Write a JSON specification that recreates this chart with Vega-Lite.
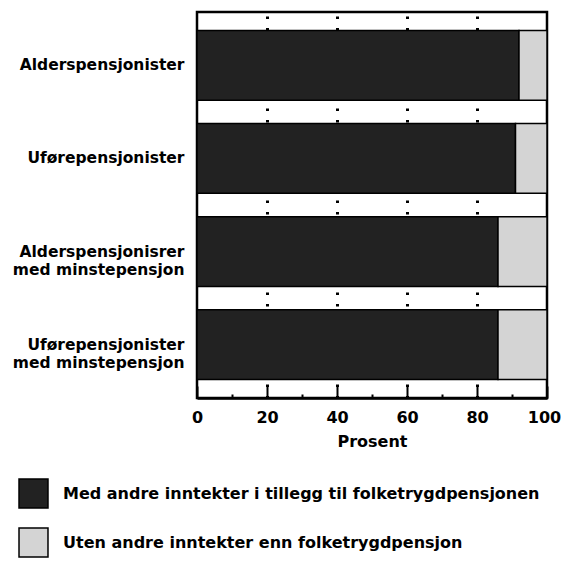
{
  "$schema": "https://vega.github.io/schema/vega-lite/v6.json",
  "autosize": {"type": "none"},
  "padding": {"left": 197, "top": 12, "right": 15, "bottom": 163},
  "width": 350,
  "height": 386,
  "config": {
    "font": "DejaVu Sans",
    "view": {"stroke": "#000", "strokeWidth": 2.5},
    "axis": {"labelFont": "DejaVu Sans", "titleFont": "DejaVu Sans"},
    "legend": {"labelFont": "DejaVu Sans"}
  },
  "data": {
    "values": [
      {"gruppe": "Alderspensjonister", "type": "Med andre inntekter i tillegg til folketrygdpensjonen", "ordre": 1, "prosent": 92},
      {"gruppe": "Alderspensjonister", "type": "Uten andre inntekter enn folketrygdpensjon", "ordre": 2, "prosent": 8},
      {"gruppe": "Uførepensjonister", "type": "Med andre inntekter i tillegg til folketrygdpensjonen", "ordre": 1, "prosent": 91},
      {"gruppe": "Uførepensjonister", "type": "Uten andre inntekter enn folketrygdpensjon", "ordre": 2, "prosent": 9},
      {"gruppe": "Alderspensjonisrer|med minstepensjon", "type": "Med andre inntekter i tillegg til folketrygdpensjonen", "ordre": 1, "prosent": 86},
      {"gruppe": "Alderspensjonisrer|med minstepensjon", "type": "Uten andre inntekter enn folketrygdpensjon", "ordre": 2, "prosent": 14},
      {"gruppe": "Uførepensjonister|med minstepensjon", "type": "Med andre inntekter i tillegg til folketrygdpensjonen", "ordre": 1, "prosent": 86},
      {"gruppe": "Uførepensjonister|med minstepensjon", "type": "Uten andre inntekter enn folketrygdpensjon", "ordre": 2, "prosent": 14}
    ]
  },
  "mark": {"type": "bar", "stroke": "#000", "strokeWidth": 1.5},
  "encoding": {
    "y": {
      "field": "gruppe",
      "type": "nominal",
      "sort": null,
      "scale": {"paddingInner": 0.25, "paddingOuter": 0.2},
      "axis": {
        "title": null,
        "ticks": false,
        "domain": false,
        "labelPadding": 13,
        "labelFontSize": 15.5,
        "labelFontWeight": "bold",
        "labelColor": "#000",
        "labelLineHeight": 18,
        "labelExpr": "split(datum.label, '|')"
      }
    },
    "x": {
      "field": "prosent",
      "type": "quantitative",
      "stack": "zero",
      "scale": {"domain": [0, 100], "nice": false},
      "axis": {
        "title": "Prosent",
        "titleFontSize": 16,
        "titleFontWeight": "bold",
        "titleColor": "#000",
        "titlePadding": 8,
        "values": [0, 10, 20, 30, 40, 50, 60, 70, 80, 90, 100],
        "labelExpr": "datum.value % 20 === 0 ? datum.label : ''",
        "labelFontSize": 16,
        "labelFontWeight": "bold",
        "labelColor": "#000",
        "labelPadding": 23,
        "labelFlush": false,
        "labelOffset": {"condition": {"test": "datum.value === 100", "value": -3}, "value": 0},
        "domainColor": "#000",
        "domainWidth": 2.5,
        "tickColor": "#000",
        "tickWidth": 2,
        "tickSize": {"condition": {"test": "datum.value % 20 === 0", "value": -12}, "value": -4},
        "grid": true,
        "gridColor": "#000",
        "gridWidth": 3,
        "gridDash": [2.5, 9],
        "gridOpacity": {"condition": {"test": "datum.value % 20 === 0 && datum.value > 0 && datum.value < 100", "value": 1}, "value": 0}
      }
    },
    "color": {
      "field": "type",
      "type": "nominal",
      "scale": {
        "domain": ["Med andre inntekter i tillegg til folketrygdpensjonen", "Uten andre inntekter enn folketrygdpensjon"],
        "range": ["#222222", "#d4d4d4"]
      },
      "legend": {
        "title": null,
        "orient": "none",
        "legendX": -179,
        "legendY": 466,
        "symbolType": "square",
        "symbolSize": 840,
        "symbolStrokeColor": "#000",
        "symbolStrokeWidth": 1.5,
        "symbolOpacity": 1,
        "labelFontSize": 16,
        "labelFontWeight": "bold",
        "labelColor": "#000",
        "labelLimit": 600,
        "labelOffset": 14,
        "rowPadding": 14
      }
    },
    "order": {"field": "ordre", "type": "quantitative"}
  }
}
